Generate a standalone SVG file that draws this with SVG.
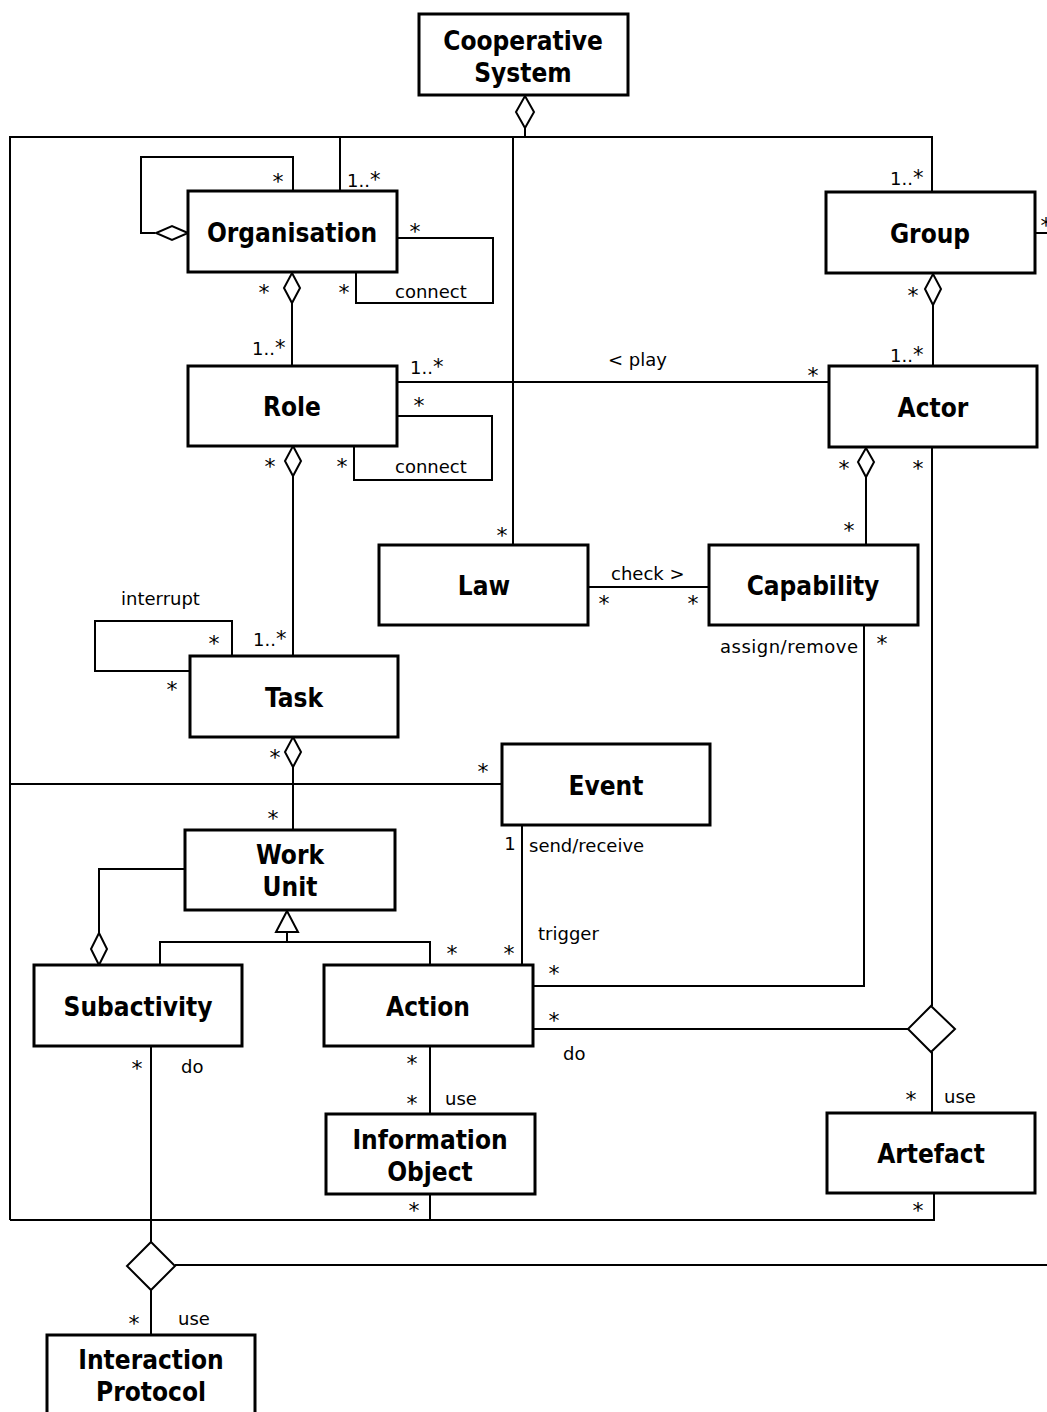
<svg xmlns="http://www.w3.org/2000/svg" width="1047" height="1412" viewBox="0 0 1047 1412">
<style>
.box{fill:#fff;stroke:#000;stroke-width:3}
.ln{fill:none;stroke:#000;stroke-width:2}
.dm{fill:#fff;stroke:#000;stroke-width:2}
.t{font-family:'DejaVu Sans Condensed','Liberation Sans',sans-serif;font-weight:bold;font-size:26px;text-anchor:middle;fill:#000}
.s{font-family:'DejaVu Sans','Liberation Sans',sans-serif;font-size:18px;fill:#000}
.a{font-family:'DejaVu Sans','Liberation Sans',sans-serif;font-size:22px;fill:#000;text-anchor:middle}
.m{text-anchor:middle}
.st{font-size:21px}
</style>
<rect width="1047" height="1412" fill="#fff"/>
<g id="connectors">
<polyline class="ln" points="10,1220 10,137 932,137 932,192"/>
<line class="ln" x1="525" y1="128" x2="525" y2="137"/>
<line class="ln" x1="340" y1="137" x2="340" y2="191"/>
<line class="ln" x1="513" y1="137" x2="513" y2="545"/>
<polyline class="ln" points="155,233 141,233 141,157 293,157 293,191"/>
<polygon class="dm" points="188,233 172,226 156,233 172,240"/>
<polyline class="ln" points="397,238 493,238 493,303 356,303 356,272"/>
<line class="ln" x1="292" y1="303" x2="292" y2="366"/>
<polygon class="dm" points="292,273 300,288 292,303 284,288"/>
<line class="ln" x1="397" y1="382" x2="829" y2="382"/>
<polyline class="ln" points="397,416 492,416 492,480 354,480 354,446"/>
<line class="ln" x1="293" y1="476" x2="293" y2="656"/>
<polygon class="dm" points="293,446 301,461 293,476 285,461"/>
<line class="ln" x1="933" y1="305" x2="933" y2="366"/>
<polygon class="dm" points="933,274 941,289 933,305 925,289"/>
<line class="ln" x1="1035" y1="233" x2="1047" y2="233"/>
<line class="ln" x1="866" y1="477" x2="866" y2="545"/>
<polygon class="dm" points="866,448 874,462 866,477 858,462"/>
<line class="ln" x1="932" y1="447" x2="932" y2="1006"/>
<line class="ln" x1="588" y1="587" x2="709" y2="587"/>
<polyline class="ln" points="864,625 864,986 533,986"/>
<polyline class="ln" points="232,656 232,621 95,621 95,671 190,671"/>
<line class="ln" x1="293" y1="767" x2="293" y2="830"/>
<polygon class="dm" points="293,737 301,752 293,767 285,752"/>
<line class="ln" x1="10" y1="784" x2="502" y2="784"/>
<line class="ln" x1="522" y1="825" x2="522" y2="965"/>
<polyline class="ln" points="287,932 287,942"/>
<polyline class="ln" points="160,965 160,942 430,942 430,965"/>
<polygon class="dm" points="287,911 298,932 276,932"/>
<polyline class="ln" points="185,869 99,869 99,933"/>
<polygon class="dm" points="99,933 107,949 99,965 91,949"/>
<line class="ln" x1="533" y1="1029" x2="908" y2="1029"/>
<polygon class="dm" points="931,1006 955,1029 931,1052 908,1029"/>
<line class="ln" x1="932" y1="1052" x2="932" y2="1113"/>
<polyline class="ln" points="934,1193 934,1220 10,1220"/>
<line class="ln" x1="430" y1="1046" x2="430" y2="1114"/>
<line class="ln" x1="430" y1="1194" x2="430" y2="1220"/>
<line class="ln" x1="151" y1="1046" x2="151" y2="1242"/>
<line class="ln" x1="175" y1="1265" x2="1047" y2="1265"/>
<polygon class="dm" points="151,1242 175,1266 151,1290 127,1266"/>
<line class="ln" x1="151" y1="1290" x2="151" y2="1335"/>
<polygon class="dm" points="525,96 534,112 525,128 516,112"/>
</g>
<g id="labels">
<text class="a" x="278" y="189">*</text>
<text class="s" x="347" y="187">1..<tspan class="st">*</tspan></text>
<text class="a" x="415" y="239">*</text>
<text class="a" x="264" y="300">*</text>
<text class="a" x="344" y="300">*</text>
<text class="s" x="395" y="298">connect</text>
<text class="s" x="252" y="355">1..<tspan class="st">*</tspan></text>
<text class="s" x="410" y="374">1..<tspan class="st">*</tspan></text>
<text class="s" x="608" y="366">&lt; play</text>
<text class="a" x="813" y="383">*</text>
<text class="s" x="890" y="185">1..<tspan class="st">*</tspan></text>
<text class="a" x="913" y="303">*</text>
<text class="s" x="890" y="362">1..<tspan class="st">*</tspan></text>
<text class="a" x="1046" y="233">*</text>
<text class="a" x="419" y="413">*</text>
<text class="a" x="342" y="474">*</text>
<text class="s" x="395" y="473">connect</text>
<text class="a" x="270" y="474">*</text>
<text class="a" x="844" y="476">*</text>
<text class="a" x="918" y="476">*</text>
<text class="a" x="849" y="538">*</text>
<text class="a" x="502" y="543">*</text>
<text class="s" x="611" y="580">check &gt;</text>
<text class="a" x="604" y="611">*</text>
<text class="a" x="693" y="611">*</text>
<text class="s" x="720" y="653" textLength="138">assign/remove</text>
<text class="a" x="882" y="651">*</text>
<text class="s" x="121" y="605">interrupt</text>
<text class="a" x="214" y="651">*</text>
<text class="a" x="172" y="697">*</text>
<text class="s" x="253" y="646">1..<tspan class="st">*</tspan></text>
<text class="a" x="275" y="765">*</text>
<text class="a" x="483" y="779">*</text>
<text class="a" x="273" y="826">*</text>
<text class="s m" x="510" y="850">1</text>
<text class="s" x="529" y="852">send/receive</text>
<text class="s" x="538" y="940">trigger</text>
<text class="a" x="452" y="961">*</text>
<text class="a" x="509" y="961">*</text>
<text class="a" x="554" y="981">*</text>
<text class="a" x="554" y="1028">*</text>
<text class="s" x="563" y="1060">do</text>
<text class="a" x="137" y="1076">*</text>
<text class="s" x="181" y="1073">do</text>
<text class="a" x="412" y="1071">*</text>
<text class="a" x="412" y="1111">*</text>
<text class="s" x="445" y="1105">use</text>
<text class="a" x="911" y="1107">*</text>
<text class="s" x="944" y="1103">use</text>
<text class="a" x="414" y="1218">*</text>
<text class="a" x="918" y="1218">*</text>
<text class="a" x="134" y="1331">*</text>
<text class="s" x="178" y="1325">use</text>
</g>
<g id="cooperative-system"><rect class="box" x="419" y="14" width="209" height="81"/><text class="t" x="523" y="50">Cooperative</text><text class="t" x="523" y="82">System</text></g>
<g id="organisation"><rect class="box" x="188" y="191" width="209" height="81"/><text class="t" x="292" y="242">Organisation</text></g>
<g id="group"><rect class="box" x="826" y="192" width="209" height="81"/><text class="t" x="930" y="243">Group</text></g>
<g id="role"><rect class="box" x="188" y="366" width="209" height="80"/><text class="t" x="292" y="416">Role</text></g>
<g id="actor"><rect class="box" x="829" y="366" width="208" height="81"/><text class="t" x="933" y="417">Actor</text></g>
<g id="law"><rect class="box" x="379" y="545" width="209" height="80"/><text class="t" x="484" y="595">Law</text></g>
<g id="capability"><rect class="box" x="709" y="545" width="209" height="80"/><text class="t" x="813" y="595">Capability</text></g>
<g id="task"><rect class="box" x="190" y="656" width="208" height="81"/><text class="t" x="294" y="707">Task</text></g>
<g id="event"><rect class="box" x="502" y="744" width="208" height="81"/><text class="t" x="606" y="795">Event</text></g>
<g id="work-unit"><rect class="box" x="185" y="830" width="210" height="80"/><text class="t" x="290" y="864">Work</text><text class="t" x="290" y="896">Unit</text></g>
<g id="subactivity"><rect class="box" x="34" y="965" width="208" height="81"/><text class="t" x="138" y="1016">Subactivity</text></g>
<g id="action"><rect class="box" x="324" y="965" width="209" height="81"/><text class="t" x="428" y="1016">Action</text></g>
<g id="information-object"><rect class="box" x="326" y="1114" width="209" height="80"/><text class="t" x="430" y="1149">Information</text><text class="t" x="430" y="1181">Object</text></g>
<g id="artefact"><rect class="box" x="827" y="1113" width="208" height="80"/><text class="t" x="931" y="1163">Artefact</text></g>
<g id="interaction-protocol"><rect class="box" x="47" y="1335" width="208" height="90"/><text class="t" x="151" y="1369">Interaction</text><text class="t" x="151" y="1401">Protocol</text></g>
</svg>
